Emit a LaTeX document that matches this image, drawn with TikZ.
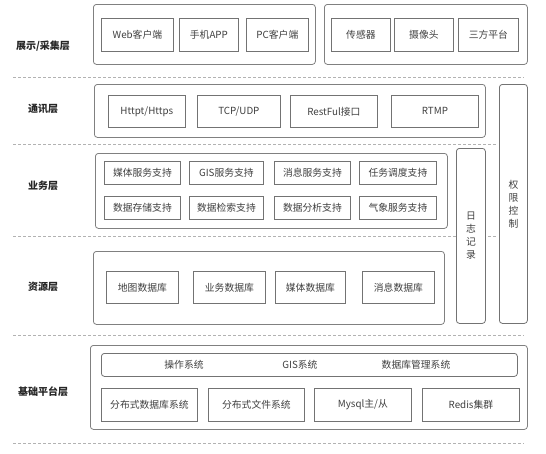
\documentclass[tikz,border=0pt]{standalone}
\usepackage{fontspec}
\setmainfont{Noto Sans CJK SC}
\begin{document}
\begin{tikzpicture}[x=1pt,y=-1pt,
  grp/.style={draw=black!50, line width=0.8pt, rounded corners=3pt, fill=white, inner sep=0pt, anchor=north west},
  itm/.style={draw=black!55, line width=0.8pt, fill=white, inner sep=0pt, anchor=north west, text=black!75, font=\fontsize{9.8}{11}\selectfont},
  vbox/.style={draw=black!55, line width=0.8pt, rounded corners=3pt, fill=white, inner sep=0pt, anchor=north west, text=black!75, align=center, font=\fontsize{9.8}{13}\selectfont},
  lbl/.style={text=black!85, font=\fontsize{10}{12}\selectfont\bfseries},
  txt/.style={text=black!75, font=\fontsize{9.8}{11}\selectfont},
  dline/.style={draw=black!30, line width=0.6pt, dash pattern=on 3pt off 2pt}]
\useasboundingbox (0,0) rectangle (546,453);
% dashed separators
\coordinate (d1a) at (13,77);  \coordinate (d1b) at (524,77);
\coordinate (d2a) at (13,144); \coordinate (d2b) at (497,144);
\coordinate (d3a) at (13,236); \coordinate (d3b) at (497,236);
\coordinate (d4a) at (13,335); \coordinate (d4b) at (524,335);
\coordinate (d5a) at (13,443); \coordinate (d5b) at (524,443);
\draw[dline] (d1a) -- (d1b);
\draw[dline] (d2a) -- (d2b);
\draw[dline] (d3a) -- (d3b);
\draw[dline] (d4a) -- (d4b);
\draw[dline] (d5a) -- (d5b);
% layer labels
\node[lbl] (l1) at (43,46) {展示/采集层};
\node[lbl] (l2) at (43,109) {通讯层};
\node[lbl] (l3) at (43,186) {业务层};
\node[lbl] (l4) at (43,287) {资源层};
\node[lbl] (l5) at (43,392) {基础平台层};
% side boxes
\node[vbox, minimum width=28pt, minimum height=239pt] (qx) at (499,84) {权\\限\\控\\制};
\node[vbox, minimum width=29pt, minimum height=175pt] (rz) at (456,148) {日\\志\\记\\录};
% top layer
\node[grp, minimum width=222pt, minimum height=60pt] (g1) at (93,4) {};
\node[grp, minimum width=203pt, minimum height=60pt] (g2) at (324,4) {};
\node[itm, minimum width=72pt, minimum height=33pt] (web) at (101,18) {Web客户端};
\node[itm, minimum width=59pt, minimum height=33pt] (app) at (179,18) {手机APP};
\node[itm, minimum width=62pt, minimum height=33pt] (pc) at (246,18) {PC客户端};
\node[itm, minimum width=59pt, minimum height=33pt] (sen) at (331,18) {传感器};
\node[itm, minimum width=59pt, minimum height=33pt] (cam) at (394,18) {摄像头};
\node[itm, minimum width=60pt, minimum height=33pt] (thp) at (458,18) {三方平台};
% communication layer
\node[grp, minimum width=391pt, minimum height=53pt] (g3) at (94,84) {};
\node[itm, minimum width=77pt, minimum height=32pt] (http) at (108,95) {Httpt/Https};
\node[itm, minimum width=83pt, minimum height=32pt] (tcp) at (197,95) {TCP/UDP};
\node[itm, minimum width=87pt, minimum height=32pt] (rest) at (290,95) {RestFul接口};
\node[itm, minimum width=87pt, minimum height=32pt] (rtmp) at (391,95) {RTMP};
% business layer
\node[grp, minimum width=352pt, minimum height=75pt] (g4) at (95,153) {};
\node[itm, minimum width=76pt, minimum height=23pt] (b1) at (104,161) {媒体服务支持};
\node[itm, minimum width=74pt, minimum height=23pt] (b2) at (189,161) {GIS服务支持};
\node[itm, minimum width=76pt, minimum height=23pt] (b3) at (274,161) {消息服务支持};
\node[itm, minimum width=77pt, minimum height=23pt] (b4) at (359,161) {任务调度支持};
\node[itm, minimum width=76pt, minimum height=23pt] (b5) at (104,196) {数据存储支持};
\node[itm, minimum width=74pt, minimum height=23pt] (b6) at (189,196) {数据检索支持};
\node[itm, minimum width=76pt, minimum height=23pt] (b7) at (274,196) {数据分析支持};
\node[itm, minimum width=77pt, minimum height=23pt] (b8) at (359,196) {气象服务支持};
% resource layer
\node[grp, minimum width=351pt, minimum height=73pt] (g5) at (93,251) {};
\node[itm, minimum width=72pt, minimum height=32pt] (r1) at (106,271) {地图数据库};
\node[itm, minimum width=72pt, minimum height=32pt] (r2) at (193,271) {业务数据库};
\node[itm, minimum width=70pt, minimum height=32pt] (r3) at (275,271) {媒体数据库};
\node[itm, minimum width=72pt, minimum height=32pt] (r4) at (362,271) {消息数据库};
% platform layer
\node[grp, minimum width=437pt, minimum height=84pt] (g6) at (90,345) {};
\node[grp, draw=black!55, minimum width=416pt, minimum height=23pt] (bar) at (101,353) {};
\node[txt] (os) at (184,364.5) {操作系统};
\node[txt] (gis) at (300,364.5) {GIS系统};
\node[txt] (dbms) at (416,364.5) {数据库管理系统};
\node[itm, minimum width=96pt, minimum height=33pt] (p1) at (101,388) {分布式数据库系统};
\node[itm, minimum width=96pt, minimum height=33pt] (p2) at (208,388) {分布式文件系统};
\node[itm, minimum width=97pt, minimum height=33pt] (p3) at (314,388) {Mysql主/从};
\node[itm, minimum width=97pt, minimum height=33pt] (p4) at (422,388) {Redis集群};
\end{tikzpicture}
\end{document}
